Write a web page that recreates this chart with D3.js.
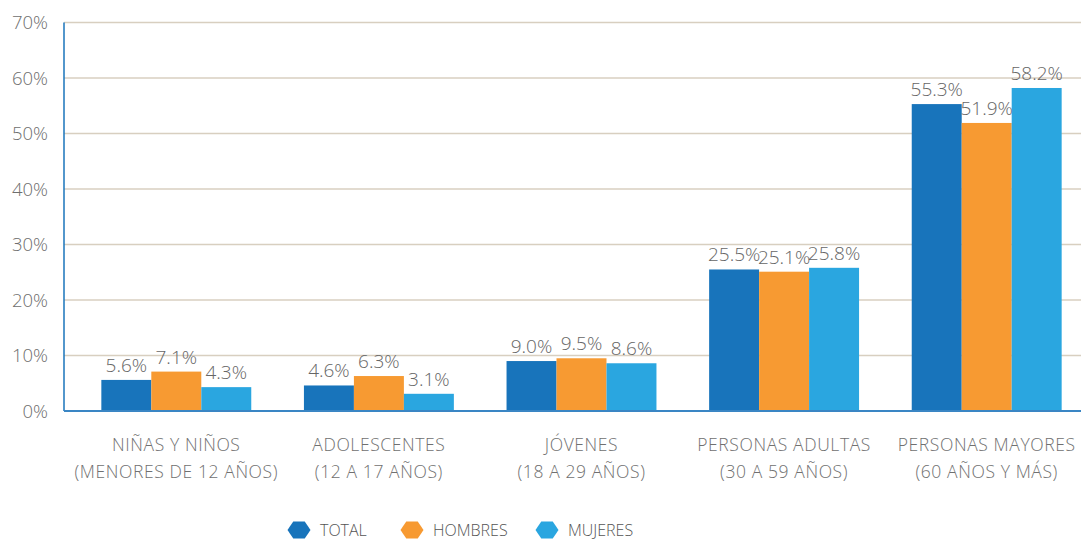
<!DOCTYPE html>
<html>
<head>
<meta charset="utf-8">
<script src="https://cdn.jsdelivr.net/npm/d3@7"></script>
<style>
  body { margin: 0; background: #fff; }
  svg { display: block; font-family: 'Open Sans', 'Lato', sans-serif; font-weight: 300; }
</style>
</head>
<body>
<svg id="chart"></svg>
<script>
const categories = [
  ['NIÑAS Y NIÑOS', '(MENORES DE 12 AÑOS)'],
  ['ADOLESCENTES', '(12 A 17 AÑOS)'],
  ['JÓVENES', '(18 A 29 AÑOS)'],
  ['PERSONAS ADULTAS', '(30 A 59 AÑOS)'],
  ['PERSONAS MAYORES', '(60 AÑOS Y MÁS)']
]
const seriesNames = ['TOTAL', 'HOMBRES', 'MUJERES']
const total = [5.6, 4.6, 9.0, 25.5, 55.3]
const hombres = [7.1, 6.3, 9.5, 25.1, 51.9]
const mujeres = [4.3, 3.1, 8.6, 25.8, 58.2]
const yTicks = [0, 10, 20, 30, 40, 50, 60, 70]

const colors = ['#1874bb', '#f79a32', '#2aa6e0']
const series = [total, hombres, mujeres]

var width = 1081
var height = 539

var svg = d3.select('#chart').attr('width', width).attr('height', height)

var y = d3.scaleLinear().domain([0, 70]).range([411, 22.5])

var x0 = d3
  .scaleBand()
  .domain(d3.range(categories.length))
  .range([75, 1088])
  .paddingInner(0.26)
  .paddingOuter(0.13)

var x1 = d3
  .scaleBand()
  .domain(d3.range(seriesNames.length))
  .range([0, x0.bandwidth()])

// gridlines
svg
  .append('g')
  .selectAll('line')
  .data(yTicks.filter((d) => d > 0))
  .join('line')
  .attr('x1', 64)
  .attr('x2', width)
  .attr('y1', (d) => y(d))
  .attr('y2', (d) => y(d))
  .attr('stroke', '#d8cfc0')
  .attr('stroke-width', 1.3)

// y tick labels
svg
  .append('g')
  .attr('font-size', 18.5)
  .attr('fill', '#6e6e6e')
  .attr('text-anchor', 'end')
  .selectAll('text')
  .data(yTicks)
  .join('text')
  .attr('x', 48)
  .attr('y', (d) => y(d) + 6.5)
  .text((d) => d + '%')

// bars
var groups = svg
  .append('g')
  .selectAll('g')
  .data(categories)
  .join('g')
  .attr('transform', (d, i) => `translate(${x0(i)},0)`)

groups
  .selectAll('rect')
  .data((d, i) => series.map((s, j) => ({ j: j, v: s[i] })))
  .join('rect')
  .attr('x', (d) => x1(d.j))
  .attr('width', x1.bandwidth())
  .attr('y', (d) => y(d.v))
  .attr('height', (d) => y(0) - y(d.v))
  .attr('fill', (d) => colors[d.j])

groups
  .selectAll('text')
  .data((d, i) => series.map((s, j) => ({ j: j, v: s[i] })))
  .join('text')
  .attr('x', (d) => x1(d.j) + x1.bandwidth() / 2)
  .attr('y', (d) => y(d.v) - 8)
  .attr('text-anchor', 'middle')
  .attr('font-size', 19)
  .attr('fill', '#666')
  .text((d) => d.v.toFixed(1) + '%')

// axes lines
svg
  .append('line')
  .attr('x1', 64)
  .attr('x2', 64)
  .attr('y1', y(70))
  .attr('y2', y(0))
  .attr('stroke', '#1a75bb')
  .attr('stroke-width', 1.5)
svg
  .append('line')
  .attr('x1', 64)
  .attr('x2', width)
  .attr('y1', y(0))
  .attr('y2', y(0))
  .attr('stroke', '#3a86c4')
  .attr('stroke-width', 2)

// category labels
svg
  .append('g')
  .attr('font-size', 17.5)
  .attr('letter-spacing', 0.6)
  .attr('fill', '#707070')
  .attr('text-anchor', 'middle')
  .selectAll('text')
  .data(categories)
  .join('text')
  .attr('x', (d, i) => x0(i) + x0.bandwidth() / 2)
  .attr('y', 451)
  .call((t) => t.append('tspan').text((d) => d[0]))
  .call((t) =>
    t
      .append('tspan')
      .attr('x', (d, i) => x0(i) + x0.bandwidth() / 2)
      .attr('dy', 27)
      .text((d) => d[1])
  )

// legend
var legendX = [299, 412, 547]
var hex = (r) =>
  d3.range(6).map((k) => {
    var a = (Math.PI / 3) * k
    return [r * Math.cos(a), r * Math.sin(a) * 0.85]
  })

var legend = svg
  .append('g')
  .selectAll('g')
  .data(seriesNames)
  .join('g')
  .attr('transform', (d, i) => `translate(${legendX[i]},530)`)

legend
  .append('path')
  .attr('d', (d) => d3.line()(hex(11.5)) + 'Z')
  .attr('fill', (d, i) => colors[i])

legend
  .append('text')
  .attr('x', 21)
  .attr('y', 5.5)
  .attr('font-size', 16)
  .attr('fill', '#555')
  .text((d) => d)
</script>
</body>
</html>
